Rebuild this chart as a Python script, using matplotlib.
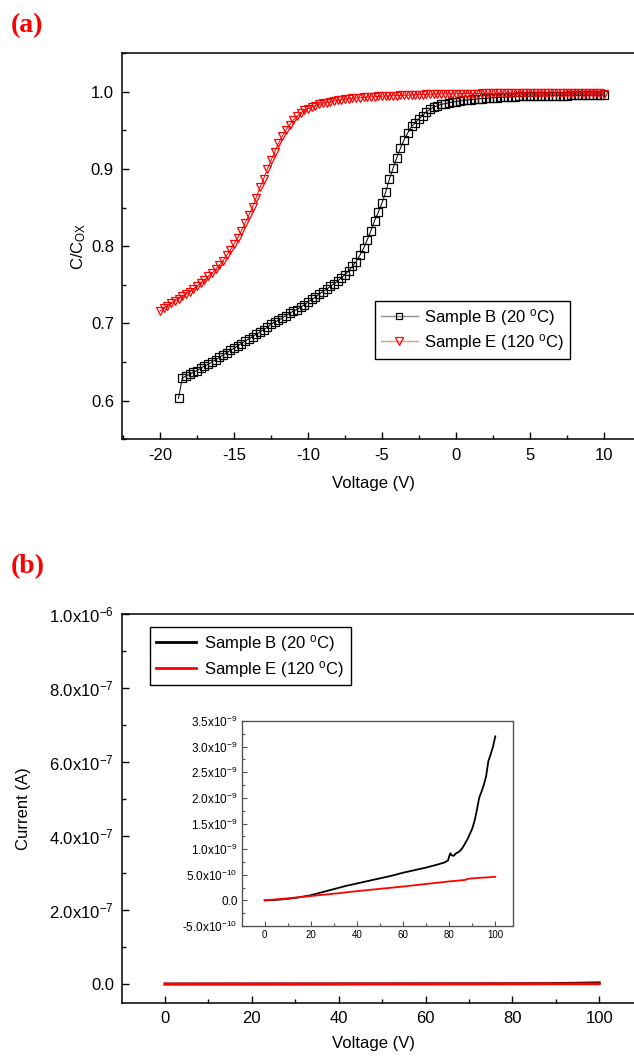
import matplotlib
matplotlib.use("Agg")
import matplotlib.pyplot as plt
from matplotlib.lines import Line2D
from matplotlib.ticker import MultipleLocator, FixedLocator, FixedFormatter

plt.rcParams['font.family'] = ['Liberation Sans', 'DejaVu Sans']
plt.rcParams['mathtext.fontset'] = 'custom'
plt.rcParams['mathtext.rm'] = 'Liberation Sans'
plt.rcParams['mathtext.it'] = 'Liberation Sans:italic'
plt.rcParams['mathtext.bf'] = 'Liberation Sans:bold'
plt.rcParams['axes.unicode_minus'] = False

# ---------------- Panel (a) data: C/Cox vs voltage ----------------
v_b = [-18.75, -18.5, -18.25,
       -18, -17.75, -17.5, -17.25,
       -17, -16.75, -16.5, -16.25,
       -16, -15.75, -15.5, -15.25,
       -15, -14.75, -14.5, -14.25,
       -14, -13.75, -13.5, -13.25,
       -13, -12.75, -12.5, -12.25,
       -12, -11.75, -11.5, -11.25,
       -11, -10.75, -10.5, -10.25,
       -10, -9.75, -9.5, -9.25,
       -9, -8.75, -8.5, -8.25,
       -8, -7.75, -7.5, -7.25,
       -7, -6.75, -6.5, -6.25,
       -6, -5.75, -5.5, -5.25,
       -5, -4.75, -4.5, -4.25,
       -4, -3.75, -3.5, -3.25,
       -3, -2.75, -2.5, -2.25,
       -2, -1.75, -1.5, -1.25,
       -1, -0.75, -0.5, -0.25,
       0, 0.25, 0.5, 0.75,
       1, 1.25, 1.5, 1.75,
       2, 2.25, 2.5, 2.75,
       3, 3.25, 3.5, 3.75,
       4, 4.25, 4.5, 4.75,
       5, 5.25, 5.5, 5.75,
       6, 6.25, 6.5, 6.75,
       7, 7.25, 7.5, 7.75,
       8, 8.25, 8.5, 8.75,
       9, 9.25, 9.5, 9.75,
       10]
c_b = [0.603, 0.629, 0.632,
       0.634, 0.637, 0.639, 0.642,
       0.645, 0.647, 0.650, 0.653,
       0.656, 0.659, 0.662, 0.665,
       0.668, 0.671, 0.674, 0.677,
       0.680, 0.683, 0.686, 0.689,
       0.692, 0.695, 0.699, 0.702,
       0.704, 0.707, 0.710, 0.713,
       0.716, 0.718, 0.721, 0.724,
       0.728, 0.731, 0.734, 0.738,
       0.741, 0.744, 0.748, 0.751,
       0.755, 0.759, 0.763, 0.768,
       0.774, 0.780, 0.788, 0.797,
       0.808, 0.820, 0.833, 0.844,
       0.856, 0.870, 0.887, 0.901,
       0.9145, 0.927, 0.938, 0.947,
       0.955, 0.960, 0.965, 0.969,
       0.974, 0.977, 0.980, 0.982,
       0.9836, 0.9845, 0.9855, 0.9865,
       0.9872, 0.988, 0.9886, 0.9892,
       0.9898, 0.9903, 0.9907, 0.9911,
       0.9915, 0.9918, 0.9921, 0.9924,
       0.9927, 0.993, 0.9932, 0.9934,
       0.9936, 0.9938, 0.9939, 0.994,
       0.9941, 0.9942, 0.9943, 0.9944,
       0.9945, 0.9946, 0.9947, 0.9948,
       0.9949, 0.995, 0.995, 0.9951,
       0.9952, 0.9952, 0.9953, 0.9954,
       0.9954, 0.9955, 0.9955, 0.9956,
       0.9957]

v_e = [-20, -19.75, -19.5, -19.25,
       -19, -18.75, -18.5, -18.25,
       -18, -17.75, -17.5, -17.25,
       -17, -16.75, -16.5, -16.25,
       -16, -15.75, -15.5, -15.25,
       -15, -14.75, -14.5, -14.25,
       -14, -13.75, -13.5, -13.25,
       -13, -12.75, -12.5, -12.25,
       -12, -11.75, -11.5, -11.25,
       -11, -10.75, -10.5, -10.25,
       -10, -9.75, -9.5, -9.25,
       -9, -8.75, -8.5, -8.25,
       -8, -7.75, -7.5, -7.25,
       -7, -6.75, -6.5, -6.25,
       -6, -5.75, -5.5, -5.25,
       -5, -4.75, -4.5, -4.25,
       -4, -3.75, -3.5, -3.25,
       -3, -2.75, -2.5, -2.25,
       -2, -1.75, -1.5, -1.25,
       -1, -0.75, -0.5, -0.25,
       0, 0.25, 0.5, 0.75,
       1, 1.25, 1.5, 1.75,
       2, 2.25, 2.5, 2.75,
       3, 3.25, 3.5, 3.75,
       4, 4.25, 4.5, 4.75,
       5, 5.25, 5.5, 5.75,
       6, 6.25, 6.5, 6.75,
       7, 7.25, 7.5, 7.75,
       8, 8.25, 8.5, 8.75,
       9, 9.25, 9.5, 9.75,
       10]
c_e = [0.716, 0.720, 0.723, 0.726,
       0.729, 0.732, 0.735, 0.738,
       0.741, 0.745, 0.748, 0.752,
       0.756, 0.761, 0.765, 0.770,
       0.775, 0.781, 0.788, 0.795,
       0.803, 0.811, 0.820, 0.830,
       0.840, 0.851, 0.863, 0.876,
       0.887, 0.900, 0.911, 0.922,
       0.933, 0.942, 0.950, 0.957,
       0.963, 0.968, 0.972, 0.976,
       0.978, 0.980, 0.982, 0.9835,
       0.985, 0.986, 0.987, 0.9878,
       0.9886, 0.9893, 0.990, 0.9906,
       0.9912, 0.9917, 0.9921, 0.9925,
       0.9929, 0.9932, 0.9935, 0.9938,
       0.9941, 0.9943, 0.9945, 0.9947,
       0.9949, 0.9951, 0.9953, 0.9955,
       0.9957, 0.9959, 0.9961, 0.9963,
       0.9965, 0.9967, 0.9968, 0.997,
       0.9971, 0.9972, 0.9973, 0.9973,
       0.9974, 0.9974, 0.9975, 0.9975,
       0.9976, 0.9976, 0.9976, 0.9977,
       0.9977, 0.9977, 0.9978, 0.9978,
       0.9978, 0.9978, 0.9979, 0.9979,
       0.9979, 0.9979, 0.9979, 0.998,
       0.998, 0.998, 0.998, 0.998,
       0.998, 0.998, 0.998, 0.998,
       0.998, 0.998, 0.998, 0.998,
       0.998, 0.998, 0.998, 0.998,
       0.998, 0.998, 0.998, 0.998,
       0.9975]

# ---------------- Panel (b) data: I-V ----------------
iv_v_b = [0, 5, 10, 15, 20, 25, 30, 35, 40, 45, 50, 55, 60, 65, 70, 75, 78,
          79.5, 80, 80.5, 81, 82, 83, 84, 85, 86, 87, 88, 89, 90, 91, 92, 93,
          94, 95, 96, 97, 98, 99, 100]
iv_i_b = [0.0, 0.01e-9, 0.03e-9, 0.06e-9, 0.10e-9, 0.16e-9, 0.22e-9, 0.28e-9,
          0.33e-9, 0.38e-9, 0.43e-9, 0.48e-9, 0.54e-9, 0.59e-9, 0.64e-9,
          0.70e-9, 0.74e-9, 0.78e-9, 0.86e-9, 0.92e-9, 0.88e-9, 0.87e-9,
          0.92e-9, 0.94e-9, 0.98e-9, 1.04e-9, 1.12e-9, 1.20e-9, 1.30e-9,
          1.40e-9, 1.55e-9, 1.76e-9, 2.00e-9, 2.12e-9, 2.25e-9, 2.42e-9,
          2.72e-9, 2.85e-9, 3.00e-9, 3.20e-9]
iv_v_e = [0, 10, 20, 30, 40, 50, 60, 70, 80, 85, 87, 88, 90, 95, 100]
iv_i_e = [0.0, 0.04e-9, 0.085e-9, 0.13e-9, 0.18e-9, 0.225e-9, 0.27e-9,
          0.32e-9, 0.37e-9, 0.39e-9, 0.40e-9, 0.42e-9, 0.43e-9, 0.445e-9,
          0.46e-9]

label_b = 'Sample B (20 $^{\\mathregular{o}}$C)'
label_e = 'Sample E (120 $^{\\mathregular{o}}$C)'

b_yticks = [0.0, 2e-7, 4e-7, 6e-7, 8e-7, 1e-6]
b_yticklabels = ['0.0', '2.0x10$^{\\mathregular{-7}}$', '4.0x10$^{\\mathregular{-7}}$',
                 '6.0x10$^{\\mathregular{-7}}$', '8.0x10$^{\\mathregular{-7}}$',
                 '1.0x10$^{\\mathregular{-6}}$']
ins_yticks = [-5e-10, 0.0, 5e-10, 1.0e-9, 1.5e-9, 2.0e-9, 2.5e-9, 3.0e-9, 3.5e-9]
ins_yticklabels = ['-5.0x10$^{\\mathregular{-10}}$', '0.0', '5.0x10$^{\\mathregular{-10}}$',
                   '1.0x10$^{\\mathregular{-9}}$', '1.5x10$^{\\mathregular{-9}}$',
                   '2.0x10$^{\\mathregular{-9}}$', '2.5x10$^{\\mathregular{-9}}$',
                   '3.0x10$^{\\mathregular{-9}}$', '3.5x10$^{\\mathregular{-9}}$']

# ---------------- Figure ----------------
W, H = 634, 1059
fig = plt.figure(figsize=(W / 100, H / 100), dpi=100)


def fx(px):
    return px / W


def fy(py):
    return 1 - py / H


def style_axes(ax, lw=1.1, color='black'):
    for s in ['left', 'bottom', 'top', 'right']:
        ax.spines[s].set_linewidth(lw)
        ax.spines[s].set_color(color)
    ax.tick_params(which='both', direction='in', top=False, right=False,
                   colors=color, labelcolor='black')


# ---- Panel (a) ----
axA = fig.add_axes([fx(122.3), fy(439.3), 1 - fx(122.3), (439.3 - 52.6) / H])
axA.plot(v_b, c_b, '-', color='black', lw=0.7, marker='s', ms=5.8,
         mfc='none', mec='black', mew=0.9)
axA.plot(v_e, c_e, '-', color='red', lw=0.7, marker='v', ms=6.3,
         mfc='none', mec='red', mew=0.9)
axA.set_xlim(-22.55, 12.03)
axA.set_ylim(0.55, 1.0506)
style_axes(axA)
axA.spines['right'].set_visible(False)
axA.xaxis.set_major_locator(MultipleLocator(5))
axA.xaxis.set_minor_locator(MultipleLocator(2.5))
axA.yaxis.set_major_locator(FixedLocator([0.6, 0.7, 0.8, 0.9, 1.0]))
axA.yaxis.set_minor_locator(MultipleLocator(0.05))
axA.tick_params(which='major', length=5, width=1.0, labelsize=12, pad=6)
axA.tick_params(which='minor', length=3, width=1.0)
axA.set_xlabel('Voltage (V)', fontsize=12)
axA.set_ylabel('C/C$_{\\mathregular{OX}}$', fontsize=12)
axA.xaxis.set_label_coords(0.49, -0.095)
axA.yaxis.set_label_coords(-0.068, 0.5)

hA = [Line2D([], [], color='#8c8c8c', lw=1.0, marker='s', ms=4.5, mfc='none',
             mec='black', mew=0.9),
      Line2D([], [], color='#ff8c8c', lw=1.0, marker='v', ms=5.5, mfc='none',
             mec='red', mew=0.9)]
legA = axA.legend(hA, [label_b, label_e], loc='upper left',
                  bbox_to_anchor=(fx(375), fy(301)), bbox_transform=fig.transFigure,
                  frameon=True, fancybox=False, edgecolor='black', framealpha=1,
                  fontsize=12, handlelength=2.2, borderpad=0.35, labelspacing=0.25,
                  handletextpad=0.4, borderaxespad=0)
legA.get_frame().set_linewidth(1.0)

# ---- Panel (b) ----
axB = fig.add_axes([fx(122.3), fy(1003), 1 - fx(122.3), (1003 - 614.3) / H])
axB.plot(iv_v_b, iv_i_b, '-', color='black', lw=2.0)
axB.plot(iv_v_e, iv_i_e, '-', color='red', lw=2.0)
axB.set_xlim(-9.85, 108.0)
axB.set_ylim(-0.0514e-6, 1.0e-6)
style_axes(axB)
axB.spines['right'].set_visible(False)
axB.xaxis.set_major_locator(MultipleLocator(20))
axB.xaxis.set_minor_locator(MultipleLocator(10))
axB.yaxis.set_major_locator(FixedLocator(b_yticks))
axB.yaxis.set_major_formatter(FixedFormatter(b_yticklabels))
axB.yaxis.set_minor_locator(MultipleLocator(1e-7))
axB.tick_params(which='major', length=5, width=1.0, labelsize=12, pad=6)
axB.tick_params(which='minor', length=3, width=1.0)
axB.set_xlabel('Voltage (V)', fontsize=12)
axB.set_ylabel('Current (A)', fontsize=12)
axB.xaxis.set_label_coords(0.49, -0.085)
axB.yaxis.set_label_coords(-0.178, 0.5)

hB = [Line2D([], [], color='black', lw=2.0), Line2D([], [], color='red', lw=2.0)]
legB = axB.legend(hB, [label_b, label_e], loc='upper left',
                  bbox_to_anchor=(fx(150.3), fy(626.7)), bbox_transform=fig.transFigure,
                  frameon=True, fancybox=False, edgecolor='black', framealpha=1,
                  fontsize=12, handlelength=2.4, borderpad=0.35, labelspacing=0.3,
                  handletextpad=0.5, borderaxespad=0)
legB.get_frame().set_linewidth(1.0)

# ---- Inset ----
axI = fig.add_axes([fx(241.7), fy(926), (513.3 - 241.7) / W, (926 - 721) / H])
axI.plot(iv_v_b, iv_i_b, '-', color='black', lw=1.3)
axI.plot(iv_v_e, iv_i_e, '-', color='red', lw=1.3)
axI.set_xlim(-9.97, 107.8)
axI.set_ylim(-0.5e-9, 3.5e-9)
style_axes(axI, lw=1.0, color='#555555')
axI.xaxis.set_major_locator(MultipleLocator(20))
axI.xaxis.set_minor_locator(MultipleLocator(10))
axI.yaxis.set_major_locator(FixedLocator(ins_yticks))
axI.yaxis.set_major_formatter(FixedFormatter(ins_yticklabels))
axI.yaxis.set_minor_locator(MultipleLocator(2.5e-10))
axI.tick_params(which='major', length=3.5, width=0.8, pad=3)
axI.tick_params(which='minor', length=2, width=0.8)
axI.tick_params(axis='y', labelsize=8.5)
axI.tick_params(axis='x', labelsize=7)

# ---- Panel labels ----
fig.text(fx(11), fy(26), '(a)', color='red', fontsize=20, fontweight='bold',
         family=['Liberation Serif', 'DejaVu Serif'], ha='left', va='center')
fig.text(fx(11), fy(567), '(b)', color='red', fontsize=20, fontweight='bold',
         family=['Liberation Serif', 'DejaVu Serif'], ha='left', va='center')

fig.savefig('out.png', dpi=100)
